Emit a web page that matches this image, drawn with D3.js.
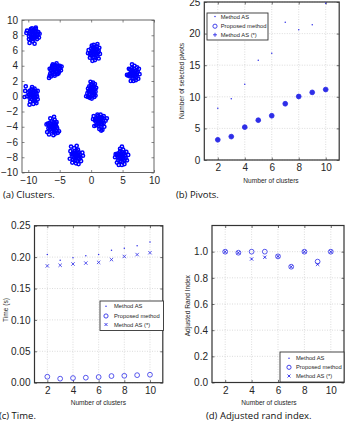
<!DOCTYPE html>
<html>
<head>
<meta charset="utf-8">
<script src="https://cdn.jsdelivr.net/npm/d3@7"></script>
<style>
    body { margin: 0; background: #fff; }
    svg { display: block; }
    text { font-family: "Liberation Sans", Arial, sans-serif; fill: #262626; }
    .cap { font-family: "Open Sans", sans-serif; font-size: 9.5px; fill: #111; }
</style>
</head>
<body>
<svg id="chart" width="346" height="421"></svg>
<script>

// (a) cluster centres and the points around each one (offsets in tenths of a unit)
let clusterX = [-9.2, -5.7, -9.3, -6.1, -2.4, 0.5, 0.1, 1.3, 6.7, 4.8];
let clusterY = [8.1, 3.5, 0.2, -4.0, -7.8, 5.75, 0.8, -3.3, 3.0, -7.9];
let clusterPts = [
    "0,0 3,0 -3,0 0,3 0,-3 3,3 -3,3 3,-3 -3,-3 6,0 -6,1 1,6 -1,-6 5,4 -5,4 5,-3 -4,-5 2,-5 -2,5 7,-1 -7,-2 4,7 -4,7 8,3 -2,8 6,-6 -7,-6 -10,5 10,1 -6,-11 2,-12 -1,-9 4,9 -11,2 9,-4",
    "0,0 3,1 -3,0 0,3 1,-3 4,4 -3,3 3,-3 -3,-3 6,1 -6,2 0,6 -1,-6 5,5 -5,5 6,-3 -5,-4 3,-6 -2,6 8,2 -7,-1 2,8 -8,-5 -9,-8 -10,-11 -7,-9 9,-1 7,5 -4,7 5,-5 -9,1 10,4 -1,-8",
    "0,0 3,0 -3,1 0,3 0,-3 3,3 -3,3 3,-3 -3,-3 6,1 -6,0 1,6 -1,-6 5,4 -5,5 5,-4 -5,-4 2,-7 -2,7 7,-2 -7,3 3,8 4,-9 -4,-9 8,5 -9,-2 -12,5 -11,11 -13,-3 1,-12 -5,-13 6,-11 -1,10 8,-6",
    "0,0 3,1 -3,0 0,3 0,-3 3,3 -3,3 3,-3 -3,-3 6,0 -6,1 1,6 -1,-6 5,4 -5,5 5,-5 -5,-4 2,-7 -2,7 7,-2 -7,-2 3,9 2,13 -4,11 -8,4 8,-8 10,-6 -6,-10 1,-11 -9,-7 -10,3 4,-9 6,6",
    "0,0 3,0 -3,1 0,3 0,-3 3,3 -3,3 3,-3 -3,-3 6,1 -6,0 1,6 -1,-6 5,4 -5,4 5,-4 -5,-5 2,-7 -2,6 7,-2 -7,2 -8,12 -3,10 3,8 10,4 11,0 -6,-9 4,-11 0,-10 8,-7 -10,-4 -9,6 1,13",
    "0,0 3,0 -3,1 0,3 0,-3 3,3 -3,3 3,-3 -3,-3 6,0 -6,-1 1,6 -1,-6 5,4 -5,5 5,-5 -5,-4 2,-7 -2,7 7,2 -7,-2 4,8 -1,10 5,11 9,-2 -9,3 -3,-11 1,-10 -7,-7 7,-8 8,6 -4,9 -10,-1",
    "0,0 3,0 -3,0 0,3 0,-3 2,3 -2,3 3,-3 -3,-3 5,1 -5,-1 0,6 1,-6 4,5 -4,5 4,-5 -4,-5 1,-8 -1,8 6,-2 -6,2 2,10 -2,11 -6,-9 -9,-8 4,-9 0,-11 7,3 -7,-4 6,-7 5,8 -3,-10",
    "0,0 3,0 -3,1 0,3 0,-3 3,3 -3,3 3,-3 -3,-3 6,1 -6,0 1,6 -1,-6 5,5 -5,4 5,-4 -5,-5 2,-7 -2,7 7,-2 -7,2 -3,9 2,9 12,4 10,1 -10,3 -8,-6 5,-11 0,-10 8,-7 -9,7 7,7 3,-12",
    "0,0 3,0 -3,1 0,3 0,-3 3,3 -3,3 3,-3 -3,-3 6,0 -6,-1 1,6 -1,-6 5,4 -5,5 5,-5 -5,-4 2,-7 -2,7 7,2 -7,-2 -8,-3 -10,-2 -2,12 2,10 9,6 10,-1 8,-7 -4,-10 0,-10 4,-9 -7,6 6,8",
    "0,0 3,0 -3,1 0,3 0,-3 3,3 -3,3 3,-3 -3,-3 6,1 -6,0 1,6 -1,-6 5,4 -5,4 5,-5 -5,-5 2,-7 -2,7 7,-2 -7,2 1,13 -2,10 3,9 -9,3 -10,-1 11,2 9,-5 -7,-8 1,-11 5,-10 -4,-11 8,6"
];

// (b)-(d) shared x values
let numClusters = [2, 3, 4, 5, 6, 7, 8, 9, 10];

let pivotsAS = [8.2, 9.7, 12.0, 15.8, 16.9, 21.8, 20.6, 21.4, 24.8];
let pivotsProposed = [3.2, 3.7, 5.2, 6.3, 7.0, 8.9, 10.05, 10.7, 11.15];
let pivotsASstar = [3.2, 3.7, 5.2, 6.3, 7.0, 8.9, 10.05, 10.7, 11.15];

let timeAS = [0.204, 0.195, 0.199, 0.202, 0.204, 0.211, 0.214, 0.218, 0.224];
let timeProposed = [0.0095, 0.0064, 0.0074, 0.008, 0.009, 0.0106, 0.011, 0.012, 0.0127];
let timeASstar = [0.186, 0.187, 0.189, 0.1905, 0.1916, 0.196, 0.201, 0.204, 0.207];

let ariAS = [1, 0.992, 0.944, 0.957, 0.964, 0.885, 1, 0.903, 1];
let ariProposed = [1, 0.992, 1, 1, 0.964, 0.885, 1, 0.924, 1];
let ariASstar = [1, 0.992, 0.944, 0.957, 0.964, 0.885, 1, 0.903, 1];

let seriesNames = ['Method AS', 'Proposed method', 'Method AS (*)'];
let xTicksK = [2, 4, 6, 8, 10];

let blue = '#2f2fe8';
let svg = d3.select('#chart');


// box, inner ticks on all four sides, optional dotted grid
function frame(g, x, y, xt, yt, grid, boxColor) {
    let [bx0, bx1] = x.range();
    let [by0, by1] = y.range();

    if (grid) {
        g.append('g').selectAll('line').data(xt).join('line')
            .attr('x1', d => x(d)).attr('x2', d => x(d))
            .attr('y1', by0).attr('y2', by1)
            .attr('stroke', '#c4c4c4').attr('stroke-width', 0.6)
            .attr('stroke-dasharray', '1,1.5');
        g.append('g').selectAll('line').data(yt).join('line')
            .attr('y1', d => y(d)).attr('y2', d => y(d))
            .attr('x1', bx0).attr('x2', bx1)
            .attr('stroke', '#c4c4c4').attr('stroke-width', 0.6)
            .attr('stroke-dasharray', '1,1.5');
    }

    let axes = [
        [d3.axisBottom(x).tickValues(xt), 'translate(0,' + by0 + ')', true],
        [d3.axisTop(x).tickValues(xt).tickFormat(''), 'translate(0,' + by1 + ')', false],
        [d3.axisLeft(y).tickValues(yt), 'translate(' + bx0 + ',0)', true],
        [d3.axisRight(y).tickValues(yt).tickFormat(''), 'translate(' + bx1 + ',0)', false]
    ];
    axes.forEach(a => {
        let ax = g.append('g')
            .attr('transform', a[1])
            .attr('font-size', 6.3)
            .call(a[0].tickSize(-2.5).tickPadding(a[2] ? 4 : 0));
        ax.select('.domain').remove();
        ax.selectAll('line').attr('stroke', boxColor).attr('stroke-width', 0.7);
    });

    g.append('rect')
        .attr('x', bx0).attr('y', by1)
        .attr('width', bx1 - bx0).attr('height', by0 - by1)
        .attr('fill', 'none')
        .attr('stroke', boxColor)
        .attr('stroke-width', grid ? 1.2 : 0.9);
}

function markerPath(type, s) {
    if (type == 'plus') return 'M' + (-s) + ',0H' + s + 'M0,' + (-s) + 'V' + s;
    return 'M' + (-s) + ',' + (-s) + 'L' + s + ',' + s + 'M' + (-s) + ',' + s + 'L' + s + ',' + (-s);
}

function drawSeries(g, x, y, vals, type, filled) {
    let pts = numClusters.map((k, i) => [k, vals[i]]);
    if (type == 'dot') {
        g.append('g').selectAll('circle').data(pts).join('circle')
            .attr('cx', d => x(d[0])).attr('cy', d => y(d[1]))
            .attr('r', 0.75).attr('fill', blue);
    } else if (type == 'circle') {
        g.append('g').selectAll('circle').data(pts).join('circle')
            .attr('cx', d => x(d[0])).attr('cy', d => y(d[1]))
            .attr('r', 2.4)
            .attr('fill', filled ? blue : 'none')
            .attr('stroke', blue).attr('stroke-width', 0.8);
    } else {
        g.append('g').selectAll('path').data(pts).join('path')
            .attr('transform', d => 'translate(' + x(d[0]) + ',' + y(d[1]) + ')')
            .attr('d', markerPath(type, type == 'plus' ? 2.2 : 1.7))
            .attr('fill', 'none')
            .attr('stroke', blue).attr('stroke-width', 0.8);
    }
}

function legend(g, bx, by, bw, bh, rows, mx, tx, thirdType) {
    g.append('rect')
        .attr('x', bx).attr('y', by).attr('width', bw).attr('height', bh)
        .attr('fill', '#fff').attr('stroke', '#333').attr('stroke-width', 0.9);
    let types = ['dot', 'circle', thirdType];
    seriesNames.forEach((name, i) => {
        let yy = by + rows[i];
        let t = types[i];
        if (t == 'dot') {
            g.append('circle').attr('cx', bx + mx).attr('cy', yy).attr('r', 0.75).attr('fill', blue);
        } else if (t == 'circle') {
            g.append('circle').attr('cx', bx + mx).attr('cy', yy).attr('r', 2.1)
                .attr('fill', 'none').attr('stroke', blue).attr('stroke-width', 0.9);
        } else {
            g.append('path')
                .attr('transform', 'translate(' + (bx + mx) + ',' + yy + ')')
                .attr('d', markerPath(t, t == 'plus' ? 2 : 1.5))
                .attr('stroke', blue).attr('stroke-width', 0.9);
        }
        g.append('text')
            .attr('x', bx + tx).attr('y', yy + 2)
            .attr('font-size', '5.8px')
            .text(name);
    });
}

function xLabel(g, cx, cy, txt) {
    g.append('text').attr('x', cx).attr('y', cy)
        .attr('text-anchor', 'middle').attr('font-size', '6.6px').text(txt);
}

function yLabel(g, cx, cy, txt) {
    g.append('text')
        .attr('transform', 'translate(' + cx + ',' + cy + ') rotate(-90)')
        .attr('text-anchor', 'middle').attr('font-size', '6.6px').text(txt);
}


function clusters_op() {
    let g = svg.append('g');
    let x = d3.scaleLinear().domain([-11, 10]).range([22, 154]);
    let y = d3.scaleLinear().domain([-10, 10]).range([172.5, 20]);

    let pts = [];
    clusterPts.forEach((s, i) => {
        s.split(' ').forEach(p => {
            let [dx, dy] = p.split(',').map(Number);
            pts.push([clusterX[i] + dx / 10, clusterY[i] + dy / 10]);
        });
    });

    g.append('g').selectAll('circle').data(pts).join('circle')
        .attr('cx', d => x(d[0])).attr('cy', d => y(d[1]))
        .attr('r', 1.6)
        .attr('fill', 'none')
        .attr('stroke', '#0000ff').attr('stroke-width', 1.5);

    frame(g, x, y, [-10, -5, 0, 5, 10], d3.range(-10, 11, 2), false, '#555');

    g.append('text').attr('class', 'cap').attr('x', 3).attr('y', 198).text('(a) Clusters.');
}

function pivots_op() {
    let g = svg.append('g');
    let x = d3.scaleLinear().domain([1, 11]).range([204.3, 339.2]);
    let y = d3.scaleLinear().domain([0, 25]).range([160, 2]);

    frame(g, x, y, xTicksK, [0, 5, 10, 15, 20, 25], true, '#333');

    drawSeries(g, x, y, pivotsAS, 'dot');
    drawSeries(g, x, y, pivotsProposed, 'circle', true);
    drawSeries(g, x, y, pivotsASstar, 'plus');

    legend(g, 207, 13, 61, 27, [3.5, 13.2, 21.8], 8, 13.7, 'plus');

    xLabel(g, 271, 182.5, 'Number of clusters');
    yLabel(g, 183.5, 81, 'Number of selected pivots');
    g.append('text').attr('class', 'cap').attr('x', 176).attr('y', 198).text('(b) Pivots.');
}

function time_op() {
    let g = svg.append('g');
    let x = d3.scaleLinear().domain([1, 11]).range([34.5, 162.8]);
    let y = d3.scaleLinear().domain([0, 0.25]).range([382.7, 225.7]);

    frame(g, x, y, xTicksK, [0, 0.05, 0.1, 0.15, 0.2, 0.25], true, '#333');

    drawSeries(g, x, y, timeAS, 'dot');
    drawSeries(g, x, y, timeProposed, 'circle', false);
    drawSeries(g, x, y, timeASstar, 'x');

    legend(g, 100, 301, 63.5, 29.5, [5.3, 15, 23.5], 6, 14, 'x');

    xLabel(g, 98.3, 405, 'Number of clusters');
    yLabel(g, 7.5, 310, 'Time (s)');
    g.append('text').attr('class', 'cap').attr('x', -1).attr('y', 418.5).text('(c) Time.');
}

function ari_op() {
    let g = svg.append('g');
    let x = d3.scaleLinear().domain([1, 11]).range([212, 344]);
    let y = d3.scaleLinear().domain([0, 1.2]).range([382.5, 225.5]);

    frame(g, x, y, xTicksK, [0, 0.2, 0.4, 0.6, 0.8, 1], true, '#333');

    drawSeries(g, x, y, ariAS, 'dot');
    drawSeries(g, x, y, ariProposed, 'circle', false);
    drawSeries(g, x, y, ariASstar, 'x');

    legend(g, 280, 352, 64, 30, [6.3, 15.3, 24], 9, 16, 'x');

    xLabel(g, 269, 405, 'Number of clusters');
    yLabel(g, 189.5, 305.7, 'Adjusted Rand Index');
    g.append('text').attr('class', 'cap').attr('x', 206).attr('y', 418.5).text('(d) Adjusted rand index.');
}

clusters_op();
pivots_op();
time_op();
ari_op();

</script>
</body>
</html>
